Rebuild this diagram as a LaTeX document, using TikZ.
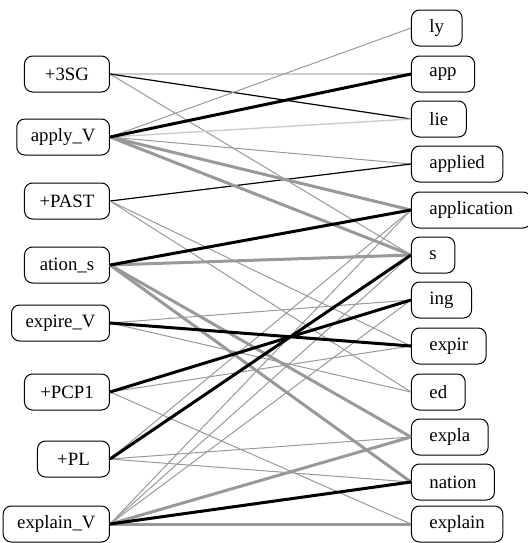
\documentclass[tikz,border=0pt]{standalone}
\usepackage{fontspec}
\setmainfont{Liberation Serif}
\definecolor{midgray}{gray}{0.6}
\definecolor{palegray}{gray}{0.8}

\begin{document}
\begin{tikzpicture}[x=0.5pt,y=-0.5pt,font=\fontsize{9.4}{11}\selectfont]
    \tikzstyle{morph}=[draw,rounded corners=4pt,line width=0.5pt,minimum height=18pt,minimum width=42.5pt,inner xsep=7pt,anchor=east,fill=white]
    \tikzstyle{seg}=[draw,rounded corners=4pt,line width=0.5pt,minimum height=18pt,inner xsep=9pt,anchor=west,fill=white]
    \tikzstyle{strong}=[line width=1.5pt,black]
    \tikzstyle{stronggray}=[line width=1.5pt,midgray]
    \tikzstyle{weak}=[line width=0.6pt,black]
    \tikzstyle{weakgray}=[line width=0.5pt,midgray]
    \tikzstyle{pale}=[line width=0.7pt,palegray]
    \useasboundingbox (0,0) rectangle (528,543);
    % left column
    \node[morph]                  (sg)          at (110,74)   {+3SG};
    \node[morph]                  (apply)       at (110,137)  {apply\_V};
    \node[morph]                  (past)        at (110,201)  {+PAST};
    \node[morph]                  (ation)       at (110,265)  {ation\_s};
    \node[morph]                  (expire)      at (110,323)  {expire\_V};
    \node[morph]                  (pcp)         at (110,392)  {+PCP1};
    \node[morph,minimum width=36pt] (pl)        at (110,459)  {+PL};
    \node[morph]                  (explainV)    at (110,524)  {explain\_V};
    % right column
    \node[seg]                    (ly)          at (411,28)   {ly};
    \node[seg]                    (app)         at (411,74)   {app};
    \node[seg]                    (lie)         at (411,119)  {lie};
    \node[seg]                    (applied)     at (411,164)  {applied};
    \node[seg]                    (application) at (411,210)  {application};
    \node[seg]                    (s)           at (411,255)  {s};
    \node[seg]                    (ing)         at (411,300)  {ing};
    \node[seg]                    (expir)       at (411,346)  {expir};
    \node[seg]                    (ed)          at (411,392)  {ed};
    \node[seg]                    (expla)       at (411,437)  {expla};
    \node[seg]                    (nation)      at (411,482)  {nation};
    \node[seg]                    (explain)     at (411,524)  {explain};
    % weak links
    \path (sg.east) edge [pale]           (app.west)
                    edge [weakgray]       (s.west)
                    edge [weak]           (lie.west)
    (apply.east)    edge [weakgray]       (ly.west)
                    edge [pale]           (lie.west)
                    edge [weakgray]       (applied.west)
    (past.east)     edge [weak]           (applied.west)
                    edge [weakgray]       (expir.west)
                    edge [weakgray]       (ed.west)
    (expire.east)   edge [weakgray]       (ing.west)
                    edge [weakgray]       (ed.west)
    (pcp.east)      edge [weakgray]       (expir.west)
                    edge [weakgray]       (explain.west)
    (pl.east)       edge [weakgray]       (application.west)
                    edge [weakgray]       (expla.west)
                    edge [weakgray]       (nation.west)
    (explainV.east) edge [weakgray]       (application.west)
                    edge [weakgray]       (s.west)
                    edge [weakgray]       (ing.west);
    % strong links
    \path (apply.east) edge [stronggray]  (application.west)
                    edge [stronggray]     (s.west)
    (ation.east)    edge [stronggray]     (s.west)
                    edge [stronggray]     (expla.west)
                    edge [stronggray]     (nation.west)
    (explainV.east) edge [stronggray]     (expla.west)
                    edge [stronggray]     (explain.west);
    \path (apply.east) edge [strong]      (app.west)
    (ation.east)    edge [strong]         (application.west)
    (expire.east)   edge [strong]         (expir.west)
    (pcp.east)      edge [strong]         (ing.west)
    (pl.east)       edge [strong]         (s.west)
    (explainV.east) edge [strong]         (nation.west);
\end{tikzpicture}
\end{document}
